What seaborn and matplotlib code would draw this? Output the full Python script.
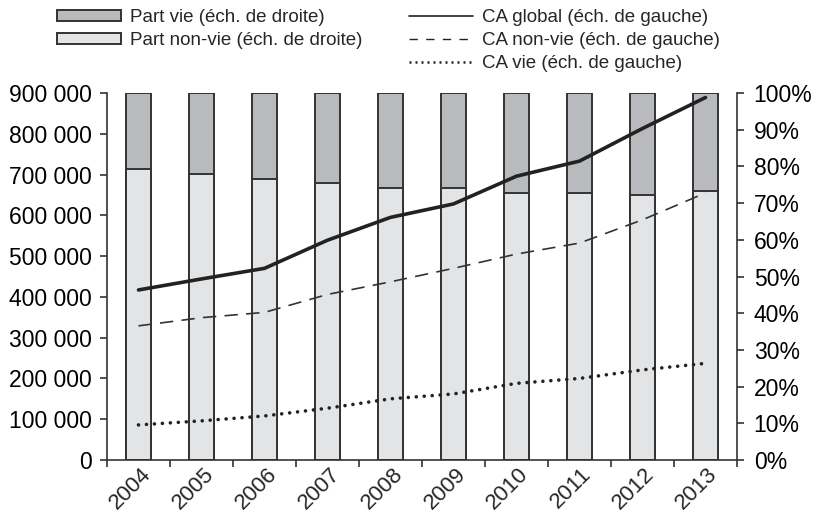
import numpy as np
import pandas as pd
import matplotlib
matplotlib.use("Agg")
import matplotlib.pyplot as plt
import matplotlib.ticker as mticker
import matplotlib.transforms as mtransforms
from matplotlib.patches import Patch
from matplotlib.lines import Line2D
import seaborn as sns

# === Data ===
years = ["2004", "2005", "2006", "2007", "2008", "2009", "2010", "2011", "2012", "2013"]
ca_global = [417000, 444000, 470000, 539000, 595000, 628000, 696000, 733000, 813000, 889000]
ca_non_vie = [329000, 349000, 362000, 406000, 437000, 470000, 505000, 532000, 589000, 655000]
ca_vie = [86000, 96000, 108000, 127000, 150000, 162000, 188000, 200000, 221000, 237000]
part_non_vie = [79.4, 77.8, 76.7, 75.5, 74.2, 74.2, 72.8, 72.8, 72.3, 73.2]
part_vie = [100 - v for v in part_non_vie]

df = pd.DataFrame({
    "year": years,
    "pos": np.arange(len(years)),
    "ca_global": ca_global,
    "ca_non_vie": ca_non_vie,
    "ca_vie": ca_vie,
    "part_non_vie": part_non_vie,
    "part_total": [a + b for a, b in zip(part_non_vie, part_vie)],
})

# === Style ===
sns.set_theme(style="ticks")
plt.rcParams["font.family"] = ["Liberation Sans", "DejaVu Sans"]
plt.rcParams["axes.linewidth"] = 1.2

dark_fill = "#b9babd"
light_fill = "#e3e4e6"
edge = "#333333"
ink = "#222222"

fig = plt.figure(figsize=(8.16, 5.16), dpi=100)
ax = fig.add_axes([107 / 816, 1 - 460 / 516, 630 / 816, 367 / 516])
ax2 = ax.twinx()

# === Bars on the right (percentage) axis ===
sns.barplot(data=df, x="year", y="part_total", color=dark_fill, width=0.4,
            edgecolor=edge, linewidth=1.4, saturation=1, ax=ax2)
sns.barplot(data=df, x="year", y="part_non_vie", color=light_fill, width=0.4,
            edgecolor=edge, linewidth=1.4, saturation=1, ax=ax2)

# === Lines on the left (CA) axis ===
sns.lineplot(data=df, x="pos", y="ca_global", color=ink, linewidth=2.6, ax=ax)
sns.lineplot(data=df, x="pos", y="ca_non_vie", color="#333333", linewidth=1.2,
             linestyle=(0, (8, 5)), ax=ax)
sns.lineplot(data=df, x="pos", y="ca_vie", color=ink, linewidth=2.6,
             linestyle=(0, (0.01, 2.2)), dash_capstyle="round", ax=ax)

ax.set_zorder(ax2.get_zorder() + 1)
ax.patch.set_visible(False)

# === Axes formatting ===
ax.set_xlim(-0.5, len(years) - 0.5)
ax.set_ylim(0, 900000)
ax2.set_ylim(0, 100)
ax.yaxis.set_major_locator(mticker.MultipleLocator(100000))
ax.yaxis.set_major_formatter(mticker.FuncFormatter(lambda v, p: f"{int(v):,}".replace(",", " ")))
ax2.yaxis.set_major_locator(mticker.MultipleLocator(10))
ax2.yaxis.set_major_formatter(mticker.FuncFormatter(lambda v, p: f"{int(v)}%"))

ax.set_xticks(np.arange(len(years)))
ax.set_xticklabels(years, rotation=45, ha="right", va="center", rotation_mode="anchor")
ax.set_xticks(np.arange(len(years) + 1) - 0.5, minor=True)
ax.tick_params(axis="x", which="major", length=0, pad=8, labelsize=16)
ax.tick_params(axis="x", which="minor", length=5, width=1.2, direction="out", color=edge)
ax.tick_params(axis="y", length=5, width=1.2, pad=6, labelsize=16.5, colors=edge, labelcolor="black")
ax2.tick_params(axis="y", length=5, width=1.2, pad=7, labelsize=16.5, colors=edge, labelcolor="black")
ax2.tick_params(axis="x", length=0)

shift = mtransforms.ScaledTranslation(9 / 100, 0, fig.dpi_scale_trans)
for lbl in ax.get_xticklabels():
    lbl.set_transform(lbl.get_transform() + shift)

for a in (ax, ax2):
    a.set_xlabel("")
    a.set_ylabel("")
    a.spines["top"].set_visible(False)
    a.spines["left"].set_color(edge)
    a.spines["right"].set_color(edge)
    a.spines["bottom"].set_color(edge)
ax.spines["right"].set_visible(False)
ax2.spines["left"].set_visible(False)
ax2.spines["bottom"].set_visible(False)

# === Legends ===
bar_handles = [
    Patch(facecolor=dark_fill, edgecolor=edge, linewidth=1.4),
    Patch(facecolor=light_fill, edgecolor=edge, linewidth=1.4),
]
bar_labels = ["Part vie (éch. de droite)", "Part non-vie (éch. de droite)"]
line_handles = [
    Line2D([], [], color=ink, linewidth=1.2),
    Line2D([], [], color=ink, linewidth=1.0, linestyle=(0, (6, 6))),
    Line2D([], [], color=ink, linewidth=1.8, linestyle=(0, (0.8, 1.6))),
]
line_labels = ["CA global (éch. de gauche)", "CA non-vie (éch. de gauche)", "CA vie (éch. de gauche)"]

leg_kw = dict(frameon=False, fontsize=13.5, handlelength=3.4, handleheight=0.5,
              handletextpad=0.5, labelspacing=0.33, borderaxespad=0, borderpad=0)
leg1 = fig.legend(bar_handles, bar_labels, loc="upper left",
                  bbox_to_anchor=(57 / 816, 1 - 9 / 516), **leg_kw)
leg2 = fig.legend(line_handles, line_labels, loc="upper left",
                  bbox_to_anchor=(409 / 816, 1 - 9 / 516), **leg_kw)

fig.savefig("out.png", dpi=100)
